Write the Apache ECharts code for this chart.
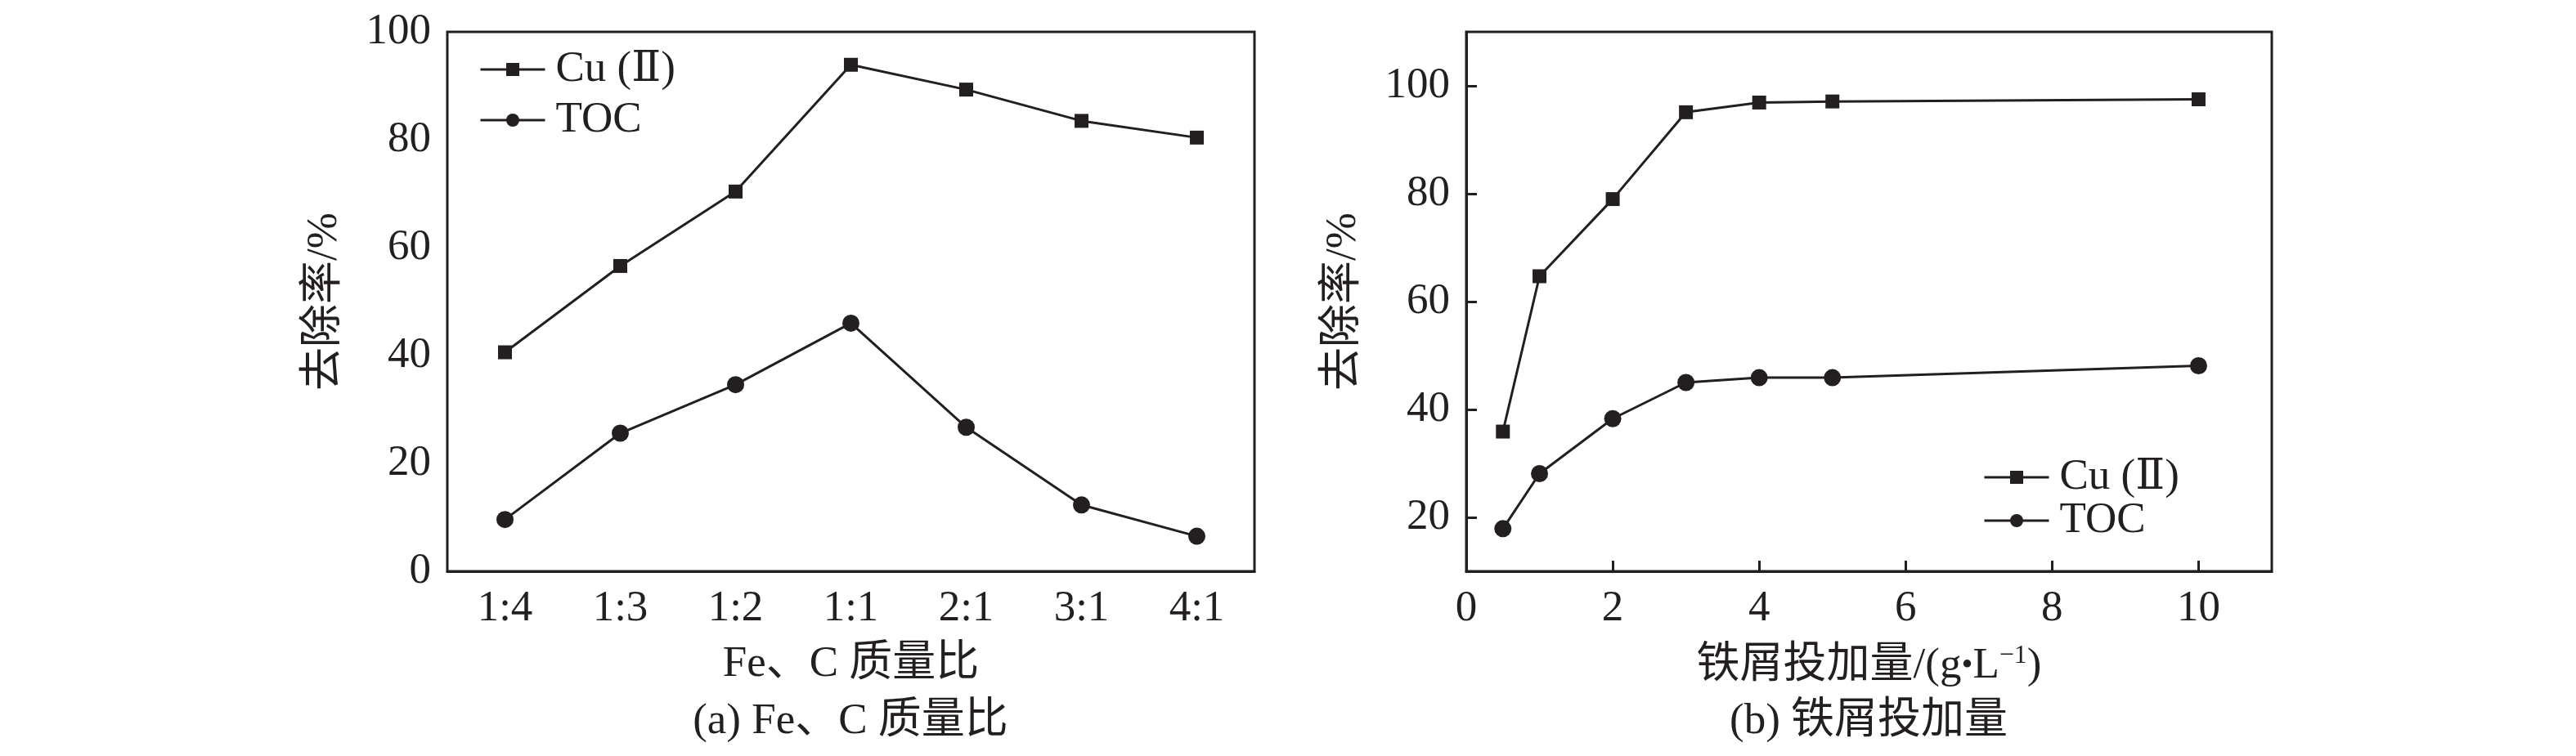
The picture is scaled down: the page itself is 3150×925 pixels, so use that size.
<!DOCTYPE html>
<html>
<head>
<meta charset="utf-8">
<script src="https://cdn.jsdelivr.net/npm/echarts@6/dist/echarts.min.js"></script>
<style>
  html, body { margin: 0; padding: 0; background: #fff; }
  #main { width: 3150px; height: 925px; }
</style>
</head>
<body>
<div id="main"></div>
<script>
// (a) Fe/C mass ratio
var ratioCats = ['1:4', '1:3', '1:2', '1:1', '2:1', '3:1', '4:1']
var cuRatio = [40.6, 56.6, 70.4, 93.9, 89.3, 83.5, 80.4]
var tocRatio = [9.6, 25.6, 34.6, 46.0, 26.7, 12.3, 6.5]

// (b) iron scrap dosage, g/L
var dosage = [0.5, 1, 2, 3, 4, 5, 10]
var cuDose = [35.9, 64.7, 79.0, 95.1, 96.9, 97.1, 97.5]
var tocDose = [17.9, 28.1, 38.3, 45.0, 45.9, 45.9, 48.1]

var yTicksB = [20, 40, 60, 80, 100]
var xTicksB = [0, 2, 4, 6, 8, 10]

var ink = '#231f20'
var font = "'Liberation Serif', 'DejaVu Serif', 'Noto Sans CJK SC', serif"
var fs = 53

function pairs(xs, ys) {
  return xs.map(function (x, i) { return [x, ys[i]] })
}

var axisLine = { lineStyle: { color: ink, width: 3 } }
var axisTick = { inside: true, length: 13, lineStyle: { color: ink, width: 3 } }
var axisLabel = { color: ink, fontFamily: font, fontSize: fs, margin: 20 }
var nameStyle = { color: ink, fontFamily: font, fontSize: fs }

function lineSeries(name, symbol, size, data, xi) {
  return {
    name: name,
    type: 'line',
    xAxisIndex: xi,
    yAxisIndex: xi,
    data: data,
    symbol: symbol,
    symbolSize: size,
    showAllSymbol: true,
    itemStyle: { color: ink },
    lineStyle: { color: ink, width: 3 },
    emphasis: { disabled: true },
    animation: false
  }
}

function legendAt(left, top, gap) {
  return {
    orient: 'vertical', left: left, top: top, itemGap: gap,
    itemWidth: 79, itemHeight: 20,
    data: ['Cu (Ⅱ)', 'TOC'],
    selectedMode: false,
    lineStyle: { color: ink, width: 3 },
    textStyle: { color: ink, fontFamily: font, fontSize: fs, lineHeight: 54, padding: [0, 0, 0, 8] }
  }
}

var myChart = echarts.init(document.getElementById('main'))

var option = {
  backgroundColor: '#fff',
  animation: false,
  title: [
    {
      text: '(a) Fe、C 质量比',
      left: 1040, top: 855, textAlign: 'center', padding: 0,
      textStyle: { color: ink, fontFamily: font, fontSize: fs, fontWeight: 'normal', lineHeight: 56 }
    },
    {
      text: '(b) 铁屑投加量',
      left: 2285, top: 855, textAlign: 'center', padding: 0,
      textStyle: { color: ink, fontFamily: font, fontSize: fs, fontWeight: 'normal', lineHeight: 56 }
    }
  ],
  legend: [legendAt(581, 53, 8), legendAt(2420, 552, -1)],
  grid: [
    { left: 547, top: 39, width: 987, height: 660, show: true, borderColor: ink, borderWidth: 3 },
    { left: 1793, top: 39, width: 985, height: 660, show: true, borderColor: ink, borderWidth: 3 }
  ],
  xAxis: [
    {
      gridIndex: 0, type: 'category', data: ratioCats, boundaryGap: true,
      name: 'Fe、C 质量比', nameLocation: 'middle', nameGap: 88, nameTextStyle: nameStyle,
      axisLine: axisLine,
      axisTick: Object.assign({ alignWithLabel: true }, axisTick),
      axisLabel: axisLabel,
      splitLine: { show: false }
    },
    {
      gridIndex: 1, type: 'value', min: 0, max: 11,
      name: '{n|铁屑投加量/(g}{d|•}{n|L}{s|−1}{n|)}', nameLocation: 'middle', nameGap: 88,
      nameTextStyle: {
        color: ink, fontFamily: font, fontSize: fs,
        rich: {
          n: { color: ink, fontFamily: font, fontSize: fs, lineHeight: 56 },
          d: { color: ink, fontFamily: font, fontSize: 40, lineHeight: 56 },
          s: { color: ink, fontFamily: font, fontSize: 32, verticalAlign: 'top', lineHeight: 56, padding: [0, 0, 18, 0] }
        }
      },
      axisLine: axisLine,
      axisTick: Object.assign({ customValues: xTicksB }, axisTick),
      axisLabel: Object.assign({ customValues: xTicksB }, axisLabel),
      splitLine: { show: false }
    }
  ],
  yAxis: [
    {
      gridIndex: 0, type: 'value', min: 0, max: 100, interval: 20,
      name: '去除率/%', nameLocation: 'middle', nameGap: 123, nameTextStyle: nameStyle,
      axisLine: axisLine, axisTick: axisTick, axisLabel: axisLabel,
      splitLine: { show: false }
    },
    {
      gridIndex: 1, type: 'value', min: 10, max: 110,
      name: '去除率/%', nameLocation: 'middle', nameGap: 123, nameTextStyle: nameStyle,
      axisLine: axisLine,
      axisTick: Object.assign({ customValues: yTicksB }, axisTick),
      axisLabel: Object.assign({ customValues: yTicksB }, axisLabel),
      splitLine: { show: false }
    }
  ],
  series: [
    lineSeries('Cu (Ⅱ)', 'rect', 17, cuRatio, 0),
    lineSeries('TOC', 'circle', 21, tocRatio, 0),
    lineSeries('Cu (Ⅱ)', 'rect', 17, pairs(dosage, cuDose), 1),
    lineSeries('TOC', 'circle', 21, pairs(dosage, tocDose), 1)
  ]
}

myChart.setOption(option)
</script>
</body>
</html>
